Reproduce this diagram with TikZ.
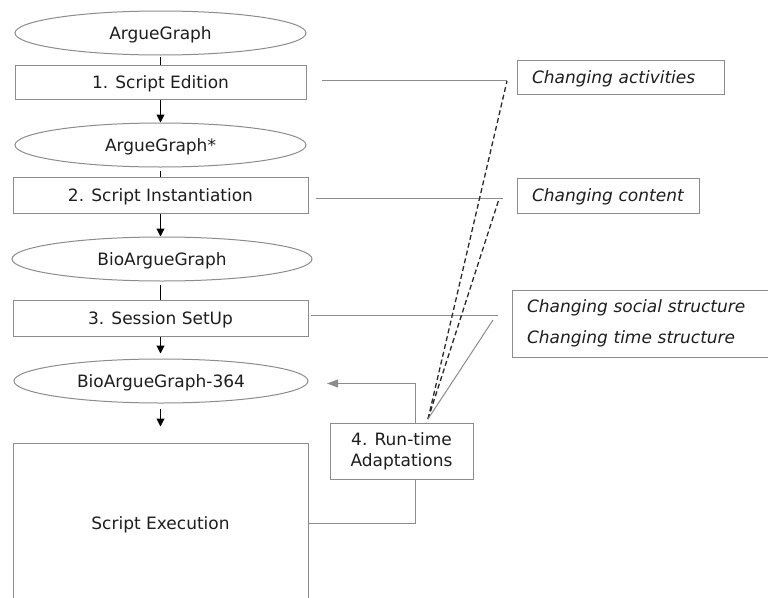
\documentclass[tikz,border=0pt]{standalone}
\usepackage{fontspec}
\setmainfont{DejaVu Sans}
\usetikzlibrary{shapes.geometric,arrows.meta}
\definecolor{edge}{HTML}{8C8C8C}
\definecolor{ink}{HTML}{1E1E1E}
\definecolor{dashink}{HTML}{2A2A2A}
\begin{document}
\begin{tikzpicture}[x=1pt,y=-1pt,
  every node/.style={font=\fontsize{17}{21}\selectfont, text=ink},
  oneline/.style={text height=12.5pt, text depth=0.5pt},
  oval/.style={ellipse, draw=edge, line width=1pt, inner sep=0pt, minimum height=44pt, oneline},
  stepbox/.style={rectangle, draw=edge, line width=1pt, inner sep=0pt, align=center},
  note/.style={rectangle, draw=edge, line width=1pt, inner xsep=15pt, inner ysep=0pt,
               align=left, font=\fontsize{17}{31}\selectfont\itshape},
  flow/.style={black, line width=1pt},
  flowarr/.style={flow, -{Triangle[width=8pt,length=8pt]}},
  link/.style={edge, line width=1pt},
  hint/.style={dashink, line width=1.3pt, dash pattern=on 5pt off 3pt},
]
\useasboundingbox (0,0) rectangle (768,597);
\clip (0,0) rectangle (768,597);
\fill[white] (0,0) rectangle (768,597);

% main flow
\node[oval, minimum width=291pt] (e1) at (160.5,33) {ArgueGraph};
\node[stepbox, oneline, minimum width=291pt, minimum height=34pt] (b1) at (160.5,82) {1. Script Edition};
\node[oval, minimum width=291pt] (e2) at (160.5,145) {ArgueGraph*};
\node[stepbox, oneline, minimum width=295pt, minimum height=36pt] (b2) at (160.5,195) {2. Script Instantiation};
\node[oval, minimum width=300pt] (e3) at (162,259) {BioArgueGraph};
\node[stepbox, oneline, minimum width=295pt, minimum height=36pt] (b3) at (160.5,318) {3. Session SetUp};
\node[oval, minimum width=294pt] (e4) at (161,381) {BioArgueGraph-364};
\node[stepbox, oneline, minimum width=295pt, minimum height=160pt] (ex) at (160.5,523) {Script Execution};

% run-time adaptations
\node[stepbox, minimum width=143pt, minimum height=56pt] (rt) at (401.5,451) {4. Run-time\\Adaptations};

% notes on the right
\node[note, oneline, minimum width=207pt, minimum height=34pt, text width=177pt] (n1) at (620.5,77) {Changing activities};
\node[note, oneline, minimum width=182pt, minimum height=35pt, text width=152pt] (n2) at (608,195.5) {Changing content};
\node[note, minimum width=270pt, minimum height=67pt, text width=240pt] (n3) at (647,323.5) {Changing social structure\\Changing time structure};

% connectors of the main flow, all on the axis of the step boxes
\draw[flow, shorten <=1pt] (b1.north |- e1.south) -- (b1.north);
\draw[flowarr] (b1.south) -- (b1.south |- e2.north);
\draw[flow, shorten <=3pt] (b2.north |- e2.south) -- (b2.north);
\draw[flowarr] (b2.south) -- (b2.south |- e3.north);
\draw[flow, shorten <=3pt] (b3.north |- e3.south) -- (b3.north);
\draw[flowarr, shorten >=5pt] (b3.south) -- (b3.south |- e4.north);
\draw[flowarr, shorten <=5pt, shorten >=16pt] (ex.north |- e4.south) -- (ex.north);

% side lines from the steps
\coordinate (a1) at (507,80);
\coordinate (a2) at (503,198);
\coordinate (a3) at (498,315);
\draw[link, shorten >=15pt] (a1) -- (a1 -| b1.east);
\draw[link, shorten >=7pt] (a2) -- (a2 -| b2.east);
\draw[link, shorten >=2pt] (a3) -- (a3 -| b3.east);

% adaptations feeding back into the session
\coordinate (rtx) at (415,0);
\coordinate (fb) at (327,383.5);
\draw[link, -{Triangle[width=8pt,length=11pt]}] (rt.north -| rtx) |- (fb);
\draw[link] (rt.south -| rtx) |- (ex.east);

% links from the adaptations to the kinds of change
\coordinate (cv) at (428,419);
\coordinate (d1) at (507,81);
\coordinate (d2) at (499,199);
\coordinate (s3) at (493,320);
\draw[hint] (cv) -- (d1);
\draw[hint] (cv) -- (d2);
\draw[link] (cv) -- (s3);
\end{tikzpicture}
\end{document}
